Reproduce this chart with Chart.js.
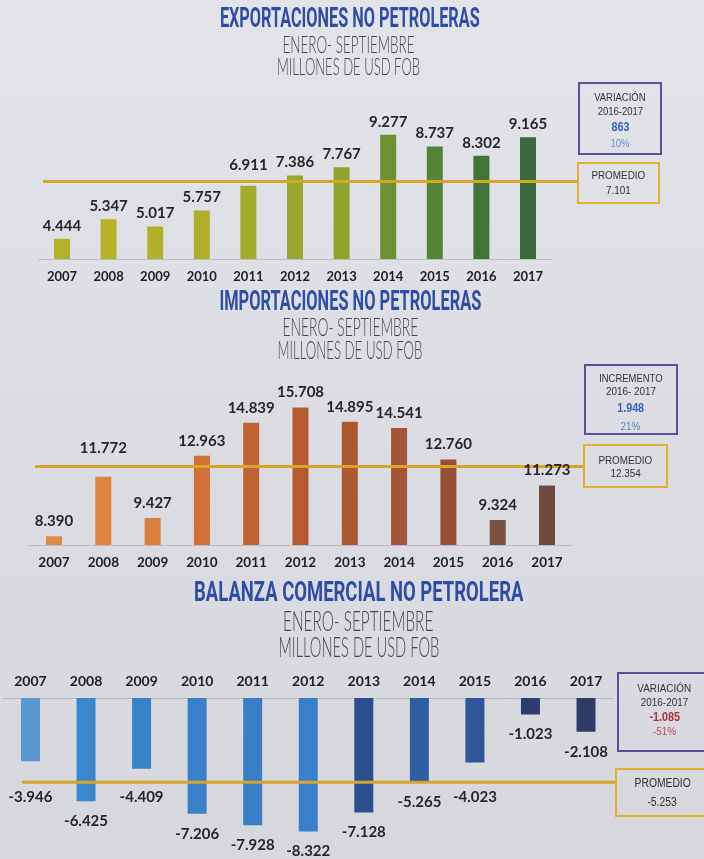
<!DOCTYPE html>
<html><head><meta charset="utf-8">
<script src="https://cdn.jsdelivr.net/npm/chart.js@4.4.1/dist/chart.umd.min.js"></script>
<style>
html,body{margin:0;padding:0;}
body{width:704px;height:859px;position:relative;overflow:hidden;background:linear-gradient(180deg,#e3e4e9 0%,#dcdde3 50%,#d6d8de 100%);font-family:Lato,sans-serif;}
canvas{position:absolute;left:0;}
.t{position:absolute;width:800px;text-align:center;white-space:nowrap;font-family:Roboto,"DejaVu Sans",sans-serif;}
.t.sub{font-family:Lato,Roboto,sans-serif;}
.t span{display:inline-block;transform-origin:50% 50%;}
.box{position:absolute;box-sizing:border-box;border:2px solid;}
.bl{position:absolute;left:-10px;right:-10px;text-align:center;white-space:nowrap;font-family:"Liberation Sans",Arial,sans-serif;height:14px;line-height:14px;}
.bl span{display:inline-block;transform:scaleX(0.86);}
</style></head><body>
<canvas id="c1" width="704" height="285" style="top:0px"></canvas>
<canvas id="c2" width="704" height="290" style="top:285px"></canvas>
<canvas id="c3" width="704" height="284" style="top:575px"></canvas>
<script>
// ---- data ----
const years = ['2007','2008','2009','2010','2011','2012','2013','2014','2015','2016','2017'];
const exportValues = [4444,5347,5017,5757,6911,7386,7767,9277,8737,8302,9165];
const importValues = [8390,11772,9427,12963,14839,15708,14895,14541,12760,9324,11273];
const balanceValues = [-3946,-6425,-4409,-7206,-7928,-8322,-7128,-5265,-4023,-1023,-2108];
const exportAverage = 7101;
const importAverage = 12354;
const balanceAverage = -5253;
const exportChange = 863, exportChangePct = '10%';
const importChange = 1948, importChangePct = '21%';
const balanceChange = -1085, balanceChangePct = '-51%';

// ---- styles ----
const exportColors = ['#b4b22b','#b5b22a','#b1b02a','#aeae2b','#a2ab2c','#98a82e','#8ea42f','#6a9233','#548437','#41733a','#3a6a3c'];
const importColors = ['#e08a48','#df843f','#dc7e3b','#d07037','#c06333','#b65b30','#aa5732','#a35535','#975036','#7a5040','#6d4a3f'];
const balanceColors = ['#5b97d0','#3c86cc','#3a82c8','#3a80c8','#3a7ec6','#3a7fcb','#2b4f8d','#2f5ea3','#2f569a','#2f3d6e','#2f3b66'];

function fmt(v){
  const a = Math.abs(v);
  const s = a >= 1000 ? Math.floor(a/1000) + '.' + String(a%1000).padStart(3,'0') : String(a);
  return (v < 0 ? '-' : '') + s;
}

function overlay(o){
  return {
    id: 'overlay',
    afterDatasetsDraw(chart){
      const ctx = chart.ctx, ys = chart.scales.y;
      const ly = ys.getPixelForValue(o.avg);
      ctx.save();
      ctx.strokeStyle = '#d8a52c'; ctx.lineWidth = 3;
      ctx.beginPath(); ctx.moveTo(o.x0, ly); ctx.lineTo(o.x1, ly); ctx.stroke();
      ctx.font = 'bold 15px Lato'; ctx.fillStyle = '#262626';
      ctx.textAlign = 'center'; ctx.textBaseline = 'middle';
      const meta = chart.getDatasetMeta(0);
      const data = chart.data.datasets[0].data;
      meta.data.forEach((bar, i) => {
        const v = data[i];
        let cy;
        if (v >= 0) {
          cy = bar.y - o.gap;
          if (cy < ly && ly - cy < 9) cy = ly - o.push;
        } else {
          cy = bar.y + o.gap;
          if (cy >= ly - 9 && cy - ly < 9) cy = ly + o.push;
        }
        ctx.fillText(fmt(v), bar.x, cy);
      });
      ctx.restore();
    }
  };
}

function makeChart(id, values, colors, opt){
  return new Chart(document.getElementById(id), {
    type: 'bar',
    data: { labels: years, datasets: [{ data: values, backgroundColor: colors, borderWidth: 0, barPercentage: opt.bar, categoryPercentage: 1 }] },
    options: {
      responsive: false, animation: false,
      layout: { padding: opt.padding },
      plugins: { legend: { display: false }, tooltip: { enabled: false } },
      scales: {
        x: {
          position: opt.pos,
          grid: { display: false, drawTicks: false },
          border: { display: true, color: 'rgba(130,130,135,0.35)', width: 1 },
          ticks: { color: '#1e1e1e', font: { family: 'Lato', weight: 'bold', size: opt.tick }, padding: opt.tickPad, maxRotation: 0, autoSkip: false },
          afterFit: s => { s.height = 26; }
        },
        y: { display: false, min: opt.min, max: opt.max }
      }
    },
    plugins: [overlay(opt.ov)]
  });
}

makeChart('c1', exportValues, exportColors, {
  bar: 0.343, padding: { left: 38.7, right: 152.7, top: 119.25, bottom: 0 },
  pos: 'bottom', tick: 13, tickPad: 10, min: 3500, max: 10000,
  ov: { avg: exportAverage, x0: 43, x1: 577, gap: 13, push: 16 }
});
makeChart('c2', importValues, importColors, {
  bar: 0.325, padding: { left: 29.35, right: 132.35, top: 108.6, bottom: 4 },
  pos: 'bottom', tick: 13.5, tickPad: 10, min: 7900, max: 16500,
  ov: { avg: importAverage, x0: 35, x1: 583, gap: 15, push: 18 }
});
makeChart('c3', balanceValues, balanceColors, {
  bar: 0.342, padding: { left: 2.7, right: 90.2, top: 97, bottom: 8.5 },
  pos: 'top', tick: 14, tickPad: 8, min: -9500, max: 0,
  ov: { avg: balanceAverage, x0: 22, x1: 615, gap: 20, push: 15 }
});

// ---- titles ----
function title(text, cx, cy, width, size, weight, color, sub){
  const d = document.createElement('div');
  d.className = sub ? 't sub' : 't';
  d.style.left = (cx - 400) + 'px';
  d.style.top = (cy - size/2) + 'px';
  d.style.fontSize = size + 'px';
  d.style.lineHeight = size + 'px';
  d.style.fontWeight = weight;
  d.style.color = color;
  const s = document.createElement('span');
  s.textContent = text;
  d.appendChild(s);
  document.body.appendChild(d);
  const w = s.offsetWidth;
  s.style.transform = 'scaleX(' + (width / w) + ')';
}
const TB = '#2e4da6', TG = '#48484a';
title('EXPORTACIONES NO PETROLERAS', 350, 18, 260, 28, 700, TB);
title('ENERO- SEPTIEMBRE', 348, 43.5, 132, 24, 300, TG, true);
title('MILLONES DE USD FOB', 348.5, 65.5, 143, 24, 300, TG, true);
title('IMPORTACIONES NO PETROLERAS', 350, 301, 262, 28, 700, TB);
title('ENERO- SEPTIEMBRE', 350, 326, 136, 25, 300, TG, true);
title('MILLONES DE USD FOB', 349.5, 349, 145, 25, 300, TG, true);
title('BALANZA COMERCIAL NO PETROLERA', 358.5, 592, 329, 28, 700, TB);
title('ENERO- SEPTIEMBRE', 358, 620, 150, 27, 300, TG, true);
title('MILLONES DE USD FOB', 358.5, 646.5, 161, 27, 300, TG, true);

// ---- boxes ----
function box(left, top, w, h, color, lines){
  const b = document.createElement('div');
  b.className = 'box';
  Object.assign(b.style, { left: left+'px', top: top+'px', width: w+'px', height: h+'px', borderColor: color });
  lines.forEach(l => {
    const d = document.createElement('div');
    d.className = 'bl';
    d.style.top = (l[1] - top - 2 - 7) + 'px';
    d.style.color = l[2] || '#333';
    d.style.fontWeight = l[3] ? 'bold' : 'normal';
    d.style.fontSize = (l[4] || 11) + 'px';
    const s = document.createElement('span');
    s.textContent = l[0];
    d.appendChild(s);
    b.appendChild(d);
  });
  document.body.appendChild(b);
}
const PURPLE = '#5b4f9b', GOLD = '#e0b02e';
box(578, 82, 84, 73, PURPLE, [['VARIACIÓN',97],['2016-2017',111],[fmt(exportChange),127,'#3763b8',true,12.5],[exportChangePct,143,'#6e8fd0']]);
box(577, 162, 83, 42, GOLD, [['PROMEDIO',175,'#333',false,11.5],[fmt(exportAverage),190,'#333',false,11.5]]);
box(584, 364, 94, 71, PURPLE, [['INCREMENTO',378],['2016- 2017',391,'#333',false,11.5],[fmt(importChange),408,'#3763b8',true,12.5],[importChangePct,426,'#5f7fc8',false,11.5]]);
box(583, 444, 85, 44, GOLD, [['PROMEDIO',460,'#333',false,11.5],[fmt(importAverage),473,'#333',false,11.5]]);
box(617, 672, 95, 80, PURPLE, [['VARIACIÓN',688,'#333',false,11.5],['2016-2017',702,'#333',false,11.5],[fmt(balanceChange),717,'#a83238',true,12.5],[balanceChangePct,731,'#c0454d',false,11.5]]);
box(615, 768, 95, 49, GOLD, [['PROMEDIO',783,'#333',false,12],[fmt(balanceAverage),802,'#333',false,12]]);
</script>
</body></html>
